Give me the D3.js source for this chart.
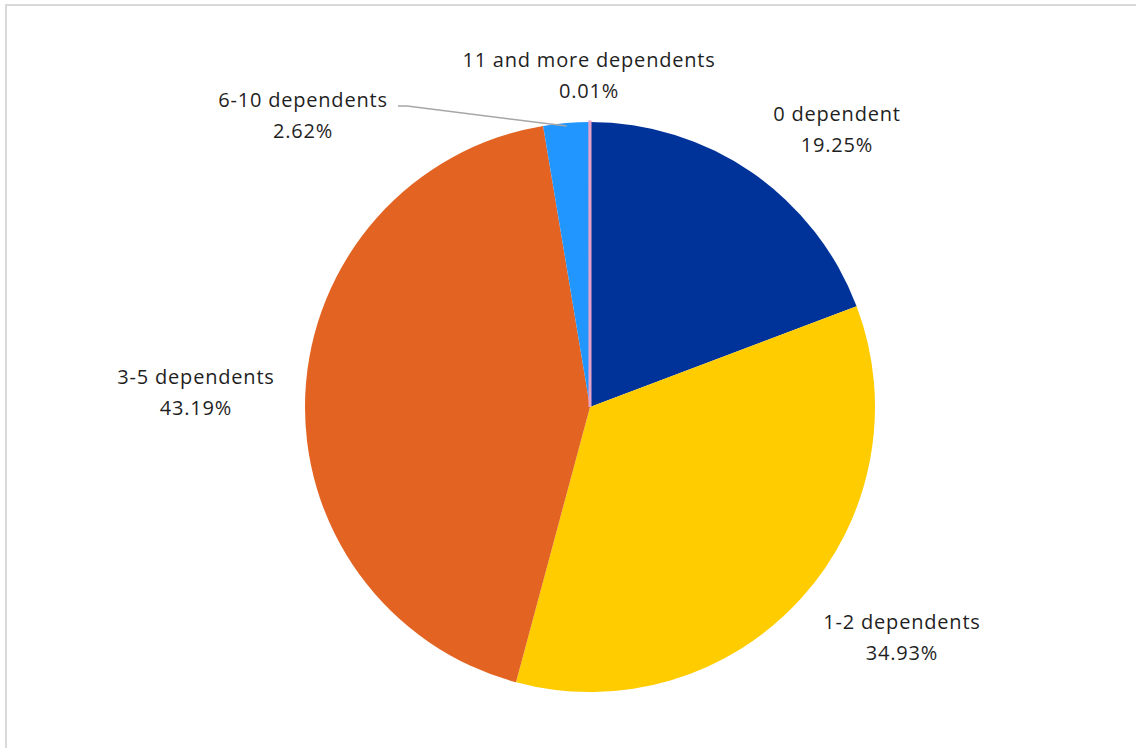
<!DOCTYPE html>
<html>
<head>
<meta charset="utf-8">
<script src="https://cdn.jsdelivr.net/npm/d3@7"></script>
<style>
  html, body { margin: 0; padding: 0; background: #ffffff; }
  svg { display: block; }
  text { font-family: "Open Sans", "Noto Sans", sans-serif; fill: #1f1f1f; }
</style>
</head>
<body>
<svg id="chart" width="1145" height="748"></svg>
<script>
// Share of households by number of dependents
const categories = ["0 dependent", "1-2 dependents", "3-5 dependents", "6-10 dependents", "11 and more dependents"];
const shares = [19.25, 34.93, 43.19, 2.62, 0.01];
const colors = ["#003399", "#ffcc00", "#e26322", "#2196ff", "#e8a2c8"];

// Label anchor points (relative to pie centre) for each slice label
const labelAnchors = [
  { dx: 247, dy: -277 },
  { dx: 312, dy: 231 },
  { dx: -394, dy: -14 },
  { dx: -287, dy: -291 },
  { dx: -1, dy: -331 }
];

const cx = 590, cy = 407, R = 285;

const svg = d3.select("#chart");

// Chart area frame
svg.append("path")
  .attr("d", `M6,748 V5 H1136`)
  .attr("fill", "none")
  .attr("stroke", "#d9d9d9")
  .attr("stroke-width", 2);

const pie = d3.pie().sort(null).value(d => d)(shares);
const arc = d3.arc().innerRadius(0).outerRadius(R);

const g = svg.append("g").attr("transform", `translate(${cx},${cy})`);

g.selectAll("path.slice")
  .data(pie)
  .join("path")
  .attr("class", "slice")
  .attr("d", arc)
  .attr("fill", (d, i) => colors[i])
  .attr("stroke", (d, i) => i === 4 ? colors[i] : "none")
  .attr("stroke-width", (d, i) => i === 4 ? 3 : 0)
  .attr("stroke-linejoin", "miter");

// Leader line for the small 6-10 slice
const small = pie[3];
const midA = (small.startAngle + small.endAngle) / 2;
const tip = [Math.sin(midA) * (R - 3), -Math.cos(midA) * (R - 3)];
const la = labelAnchors[3];
svg.append("polyline")
  .attr("points", [
    [cx + la.dx + 95, cy + la.dy - 10],
    [cx + la.dx + 104, cy + la.dy - 10],
    [cx + tip[0], cy + tip[1]]
  ].map(p => p.join(",")).join(" "))
  .attr("fill", "none")
  .attr("stroke", "#a6a6a6")
  .attr("stroke-width", 1.5);

// Data labels: category name and percentage
const labels = svg.append("g");
categories.forEach((name, i) => {
  const a = labelAnchors[i];
  const t = labels.append("text")
    .attr("x", cx + a.dx)
    .attr("y", cy + a.dy)
    .attr("text-anchor", "middle")
    .style("font-size", "20px")
    .style("letter-spacing", "0.8px");
  t.append("tspan").attr("x", cx + a.dx).attr("dy", "-0.45em").text(name);
  t.append("tspan").attr("x", cx + a.dx).attr("dy", "1.57em").text(d3.format(".2f")(shares[i]) + "%");
});
</script>
</body>
</html>
